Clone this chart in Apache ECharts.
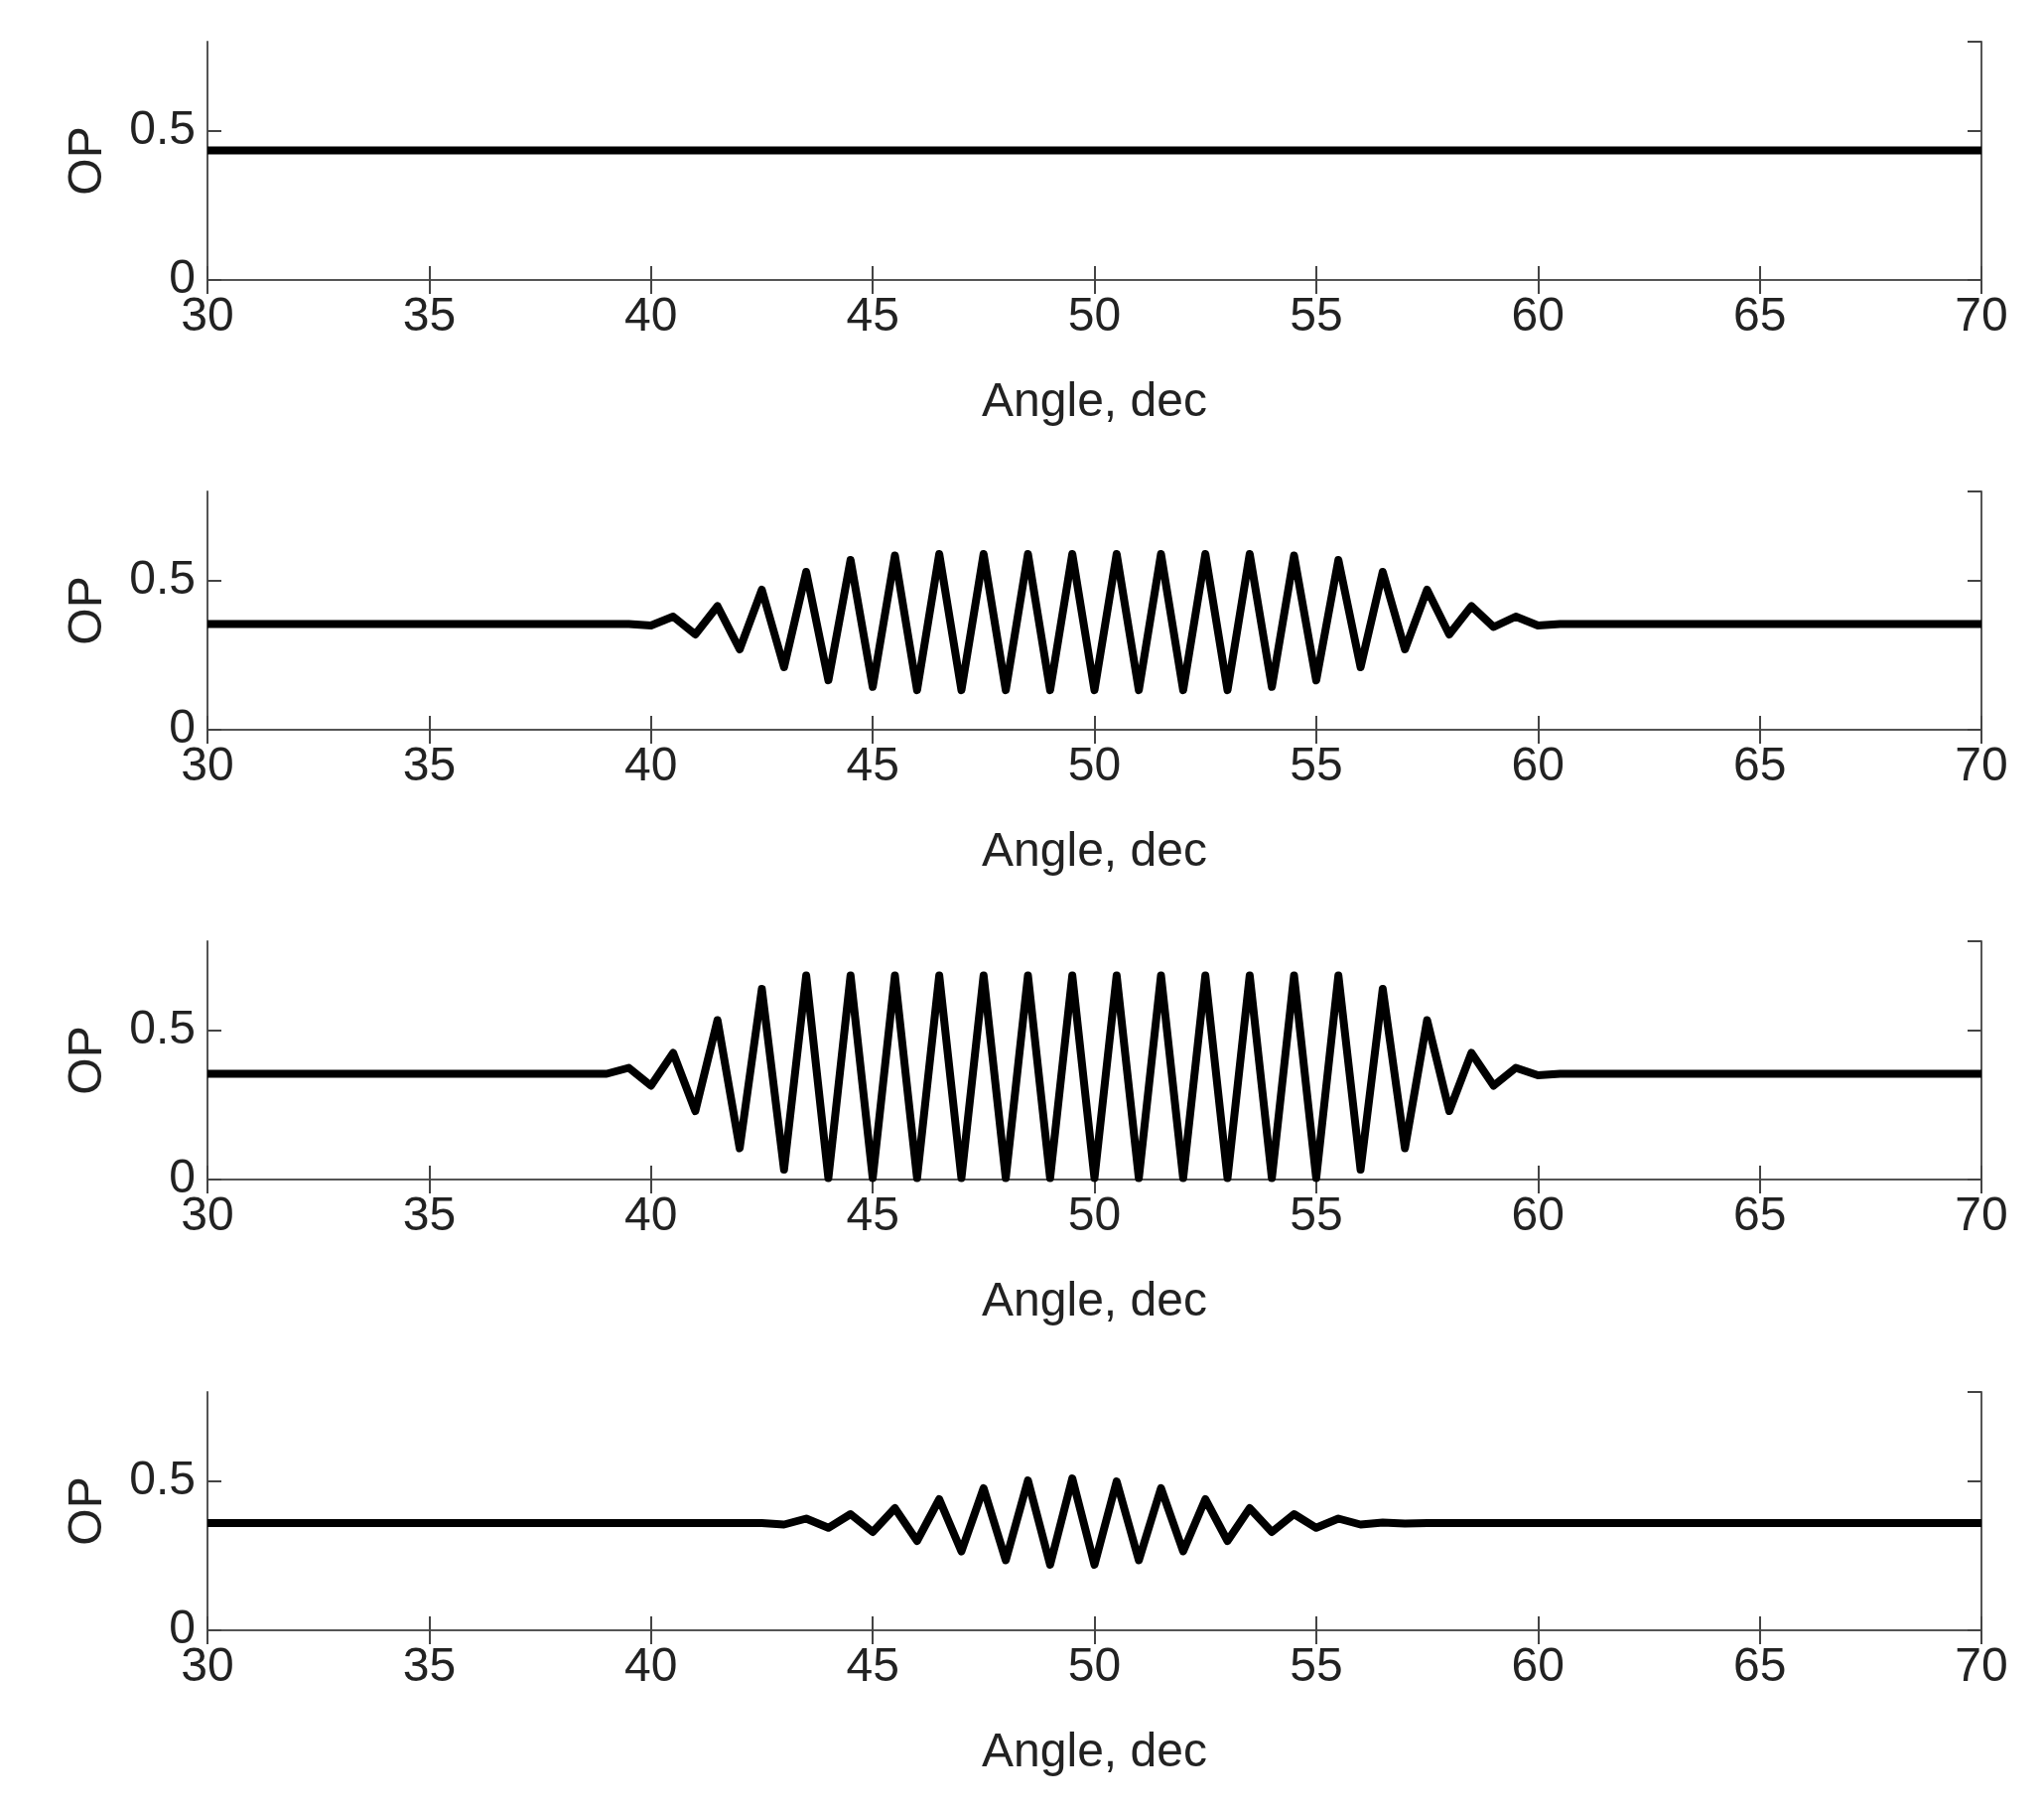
<!doctype html>
<html lang="en">
<head>
<meta charset="UTF-8">
<title>OP vs Angle</title>
<script src="https://cdn.jsdelivr.net/npm/echarts@6/dist/echarts.min.js"></script>
<style>
  html, body { margin: 0; padding: 0; background: #fff; }
  #chart { width: 2059px; height: 1823px; }
</style>
</head>
<body>
<div id="chart"></div>
<script>
// angle grid (deg) used by the oscillating panels
var angles = [30, 39, 39.5, 40, 40.5, 41, 41.5, 42, 42.5, 43, 43.5, 44, 44.5, 45, 45.5, 46, 46.5, 47, 47.5, 48, 48.5, 49, 49.5,
              50, 50.5, 51, 51.5, 52, 52.5, 53, 53.5, 54, 54.5, 55, 55.5, 56, 56.5, 57, 57.5, 58, 58.5, 59, 59.5, 60, 60.5, 61, 70];

var angles1 = [30, 70];
var op1 = [0.435, 0.435];

var op2 = [0.355, 0.355, 0.355, 0.35, 0.38, 0.32, 0.415, 0.27, 0.47, 0.21, 0.53, 0.166, 0.57, 0.144, 0.585, 0.133, 0.59, 0.133, 0.59,
           0.133, 0.59, 0.133, 0.59, 0.133, 0.59, 0.133, 0.59, 0.133, 0.59, 0.133, 0.59, 0.144, 0.585, 0.166, 0.57, 0.21, 0.53,
           0.27, 0.47, 0.32, 0.415, 0.345, 0.38, 0.35, 0.355, 0.355, 0.355];

var op3 = [0.355, 0.355, 0.375, 0.315, 0.425, 0.23, 0.535, 0.105, 0.64, 0.033, 0.685, 0.005, 0.685, 0.005, 0.685, 0.005, 0.685, 0.005, 0.685,
           0.005, 0.685, 0.005, 0.685, 0.005, 0.685, 0.005, 0.685, 0.005, 0.685, 0.005, 0.685, 0.005, 0.685, 0.005, 0.685, 0.033, 0.64,
           0.105, 0.535, 0.23, 0.425, 0.315, 0.375, 0.35, 0.355, 0.355, 0.355];

var op4 = [0.36, 0.36, 0.36, 0.36, 0.36, 0.36, 0.36, 0.36, 0.36, 0.355, 0.375, 0.344, 0.39, 0.33, 0.41, 0.30, 0.44, 0.265, 0.477, 0.235,
           0.503, 0.22, 0.51, 0.22, 0.50, 0.235, 0.477, 0.265, 0.44, 0.30, 0.41, 0.33, 0.39, 0.344, 0.375, 0.355, 0.362, 0.358, 0.36,
           0.36, 0.36, 0.36, 0.36, 0.36, 0.36, 0.36, 0.36];

var xTicks = [30, 35, 40, 45, 50, 55, 60, 65, 70];
var yTicks = [0, 0.5];

var panels = [
  { x: angles1, y: op1, top: 42 },
  { x: angles, y: op2, top: 495 },
  { x: angles, y: op3, top: 948 },
  { x: angles, y: op4, top: 1402 }
];

var font = 'Arial, "Liberation Sans", sans-serif';
var grids = [], xAxes = [], yAxes = [], series = [];

panels.forEach(function (p, i) {
  grids.push({ left: 209, width: 1787, top: p.top, height: 240 });
  var tick = { show: true, inside: true, length: 14, lineStyle: { color: '#444', width: 2 } };
  var line = { show: true, lineStyle: { color: '#555', width: 2 } };
  xAxes.push({
    gridIndex: i, type: 'value', min: 30, max: 70, interval: 5,
    axisLine: line, axisTick: tick, splitLine: { show: false },
    axisLabel: { color: '#222', fontSize: 48, fontFamily: font, margin: 14 },
    name: 'Angle, dec', nameLocation: 'middle', nameGap: 100,
    nameTextStyle: { color: '#222', fontSize: 48, fontFamily: font }
  });
  xAxes.push({
    gridIndex: i, type: 'value', min: 30, max: 70, interval: 5, position: 'top',
    axisLine: line, axisTick: tick, axisLabel: { show: false }, splitLine: { show: false }
  });
  yAxes.push({
    gridIndex: i, type: 'value', min: 0, max: 0.8, interval: 0.5,
    axisLine: line, axisTick: tick, splitLine: { show: false },
    axisLabel: {
      color: '#222', fontSize: 48, fontFamily: font, margin: 12, showMaxLabel: false,
      formatter: function (v) { return yTicks.indexOf(v) >= 0 ? String(v) : ''; }
    },
    name: 'OP', nameLocation: 'middle', nameGap: 96, nameRotate: 90,
    nameTextStyle: { color: '#222', fontSize: 48, fontFamily: font }
  });
  yAxes.push({
    gridIndex: i, type: 'value', min: 0, max: 0.8, interval: 0.5, position: 'right',
    axisLine: line, axisTick: tick, axisLabel: { show: false }, splitLine: { show: false }
  });
  series.push({
    type: 'line', xAxisIndex: i * 2, yAxisIndex: i * 2,
    data: p.x.map(function (a, k) { return [a, p.y[k]]; }),
    showSymbol: false, lineStyle: { color: '#000', width: 8, join: 'round' },
    silent: true, animation: false
  });
});

var chart = echarts.init(document.getElementById('chart'));
chart.setOption({
  backgroundColor: '#fff',
  animation: false,
  grid: grids,
  xAxis: xAxes,
  yAxis: yAxes,
  series: series
});
</script>
</body>
</html>
